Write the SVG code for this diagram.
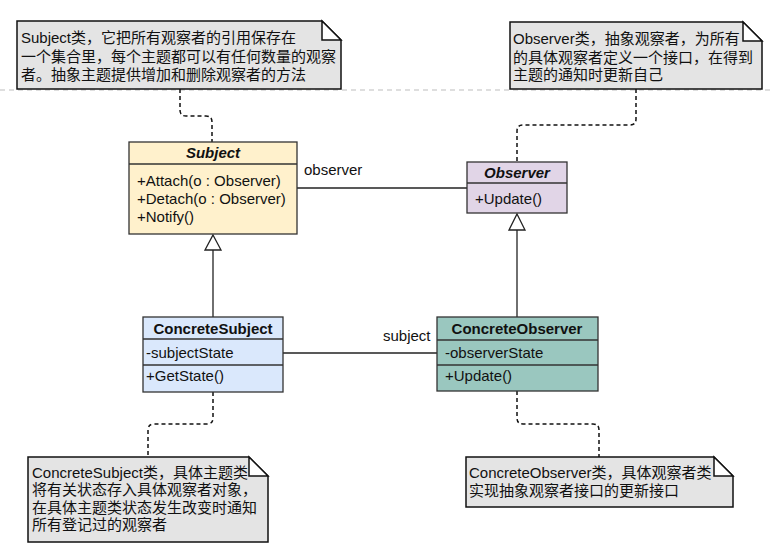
<svg xmlns="http://www.w3.org/2000/svg" width="774" height="556" viewBox="0 0 774 556">
<style>
text{font-family:"Liberation Sans","Noto Sans CJK SC",Arial,sans-serif;font-size:15px;fill:#111}
.t{font-weight:bold;text-anchor:middle}
.i{font-style:italic}
.box{stroke:#333;stroke-width:1.3}
.note{fill:#e4e4e4;stroke:#111;stroke-width:1.5}
.fold{fill:#fff;stroke:#111;stroke-width:1.5}
.dash{fill:none;stroke:#111;stroke-width:1.5;stroke-dasharray:4 3}
.ln{fill:none;stroke:#222;stroke-width:1.3}
.tri{fill:#fff;stroke:#222;stroke-width:1.3}
</style>
<rect width="774" height="556" fill="#fff"/>
<line x1="0" y1="90" x2="774" y2="90" stroke="#bdbdbd" stroke-width="1" stroke-dasharray="5 4"/>

<g id="connectors">
  <path class="dash" d="M180,89 V110 Q180,116 186,116 H206 Q212,116 212,122 V142"/>
  <path class="dash" d="M636,89 V119 Q636,125 630,125 H523 Q517,125 517,131 V162"/>
  <path class="dash" d="M213,392 V418 Q213,424 207,424 H154 Q148,424 148,430 V457"/>
  <path class="dash" d="M517,391 V418 Q517,424 523,424 H593 Q599,424 599,430 V457"/>
  <path class="ln" d="M297,188 H467"/>
  <path class="ln" d="M283,353 H437"/>
  <path class="ln" d="M213,250 V317"/>
  <polygon class="tri" points="213,235 221,250 205,250"/>
  <path class="ln" d="M517,230 V317"/>
  <polygon class="tri" points="517,214 525,230 509,230"/>
  <text x="304" y="175">observer</text>
  <text x="383" y="341">subject</text>
</g>

<g id="note-subject">
  <path class="note" d="M17,21 H322 L341,40 V89 H17 Z"/>
  <path class="fold" d="M322,21 V40 H341 Z"/>
  <text x="21" y="43">Subject类，它把所有观察者的引用保存在</text>
  <text x="21" y="62">一个集合里，每个主题都可以有任何数量的观察</text>
  <text x="21" y="80">者。抽象主题提供增加和删除观察者的方法</text>
</g>

<g id="note-observer">
  <path class="note" d="M510,22 H743 L762,41 V89 H510 Z"/>
  <path class="fold" d="M743,22 V41 H762 Z"/>
  <text x="513" y="44">Observer类，抽象观察者，为所有</text>
  <text x="513" y="63">的具体观察者定义一个接口，在得到</text>
  <text x="513" y="80">主题的通知时更新自己</text>
</g>

<g id="Subject">
  <rect class="box" x="129" y="142" width="168" height="92" fill="#fff1cc"/>
  <line class="box" x1="129" y1="164" x2="297" y2="164"/>
  <text class="t i" x="213" y="158">Subject</text>
  <text x="137" y="186">+Attach(o : Observer)</text>
  <text x="137" y="204">+Detach(o : Observer)</text>
  <text x="137" y="222">+Notify()</text>
</g>

<g id="Observer">
  <rect class="box" x="467" y="162" width="100" height="51" fill="#e1d5e7"/>
  <line class="box" x1="467" y1="183" x2="567" y2="183"/>
  <text class="t i" x="517" y="178">Observer</text>
  <text x="475" y="204">+Update()</text>
</g>

<g id="ConcreteSubject">
  <rect class="box" x="143" y="317" width="140" height="75" fill="#dae8fc"/>
  <line class="box" x1="143" y1="339" x2="283" y2="339"/>
  <line class="box" x1="143" y1="365" x2="283" y2="365"/>
  <text class="t" x="213" y="334">ConcreteSubject</text>
  <text x="146" y="358">-subjectState</text>
  <text x="146" y="381">+GetState()</text>
</g>

<g id="ConcreteObserver">
  <rect class="box" x="437" y="317" width="161" height="74" fill="#9ac7bf"/>
  <line class="box" x1="437" y1="340" x2="598" y2="340"/>
  <line class="box" x1="437" y1="365" x2="598" y2="365"/>
  <text class="t" x="517" y="334">ConcreteObserver</text>
  <text x="445" y="358">-observerState</text>
  <text x="445" y="381">+Update()</text>
</g>

<g id="note-concretesubject">
  <path class="note" d="M28,457 H249 L268,476 V542 H28 Z"/>
  <path class="fold" d="M249,457 V476 H268 Z"/>
  <text x="32" y="478">ConcreteSubject类，具体主题类</text>
  <text x="32" y="495">将有关状态存入具体观察者对象，</text>
  <text x="32" y="513">在具体主题类状态发生改变时通知</text>
  <text x="32" y="530">所有登记过的观察者</text>
</g>

<g id="note-concreteobserver">
  <path class="note" d="M466,457 H714 L733,476 V507 H466 Z"/>
  <path class="fold" d="M714,457 V476 H733 Z"/>
  <text x="469" y="478">ConcreteObserver类，具体观察者类</text>
  <text x="469" y="496">实现抽象观察者接口的更新接口</text>
</g>
</svg>
